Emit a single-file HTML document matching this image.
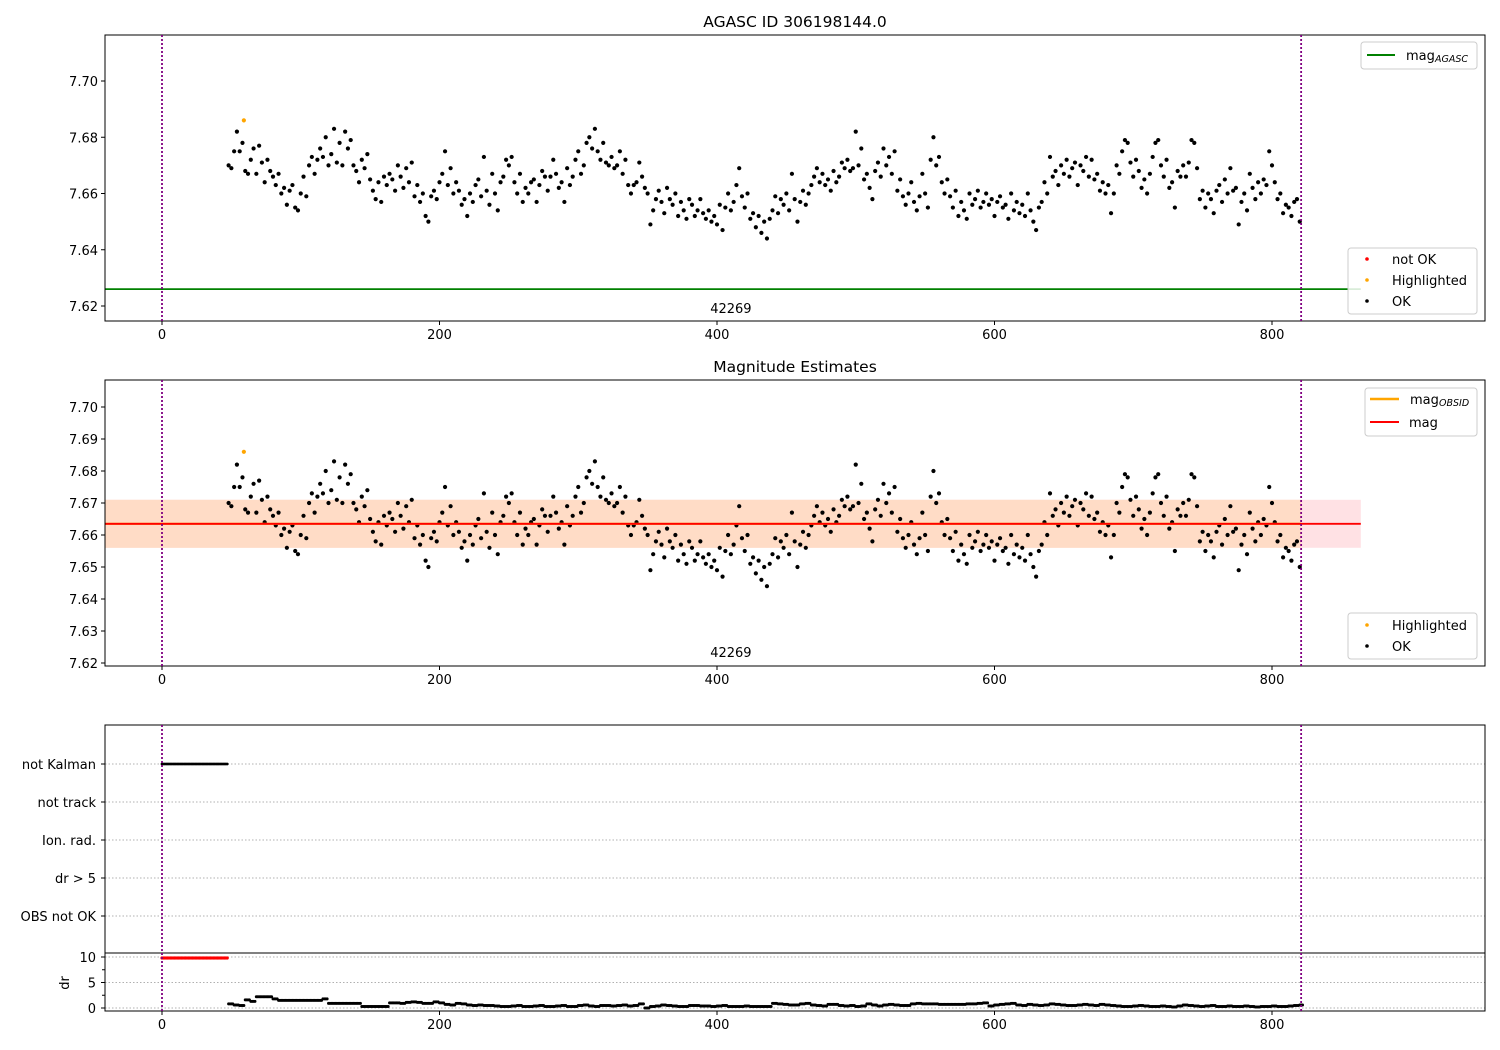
<!DOCTYPE html>
<html><head><meta charset="utf-8">
<style>
body{margin:0;background:#fff;}
svg{display:block;font-family:"DejaVu Sans","Liberation Sans",sans-serif;}
</style></head>
<body>
<svg id="fig" width="1500" height="1050" viewBox="0 0 1500 1050" xmlns="http://www.w3.org/2000/svg"></svg>
<script>
// ---- data ----
const magX0 = 48, magStep = 2;
const magValues = [
7.670,7.669,7.675,7.682,7.675,7.678,7.668,7.667,7.672,7.676,
7.667,7.677,7.671,7.664,7.672,7.668,7.666,7.663,7.667,7.660,
7.662,7.656,7.661,7.663,7.655,7.654,7.660,7.666,7.659,7.670,
7.673,7.667,7.672,7.676,7.673,7.680,7.670,7.674,7.683,7.671,
7.678,7.670,7.682,7.676,7.679,7.670,7.668,7.664,7.672,7.669,
7.674,7.665,7.661,7.658,7.664,7.657,7.666,7.663,7.667,7.665,
7.661,7.670,7.666,7.662,7.669,7.664,7.671,7.659,7.663,7.657,
7.660,7.652,7.650,7.659,7.661,7.658,7.664,7.667,7.675,7.663,
7.669,7.660,7.664,7.661,7.656,7.658,7.652,7.660,7.657,7.663,
7.665,7.659,7.673,7.661,7.656,7.667,7.660,7.654,7.664,7.666,
7.672,7.670,7.673,7.664,7.660,7.667,7.657,7.662,7.660,7.664,
7.665,7.657,7.663,7.668,7.666,7.661,7.666,7.672,7.667,7.662,
7.664,7.657,7.669,7.663,7.666,7.672,7.675,7.667,7.670,7.678,
7.680,7.676,7.683,7.675,7.672,7.678,7.671,7.670,7.673,7.669,
7.670,7.675,7.667,7.672,7.663,7.660,7.663,7.664,7.671,7.666,
7.662,7.660,7.649,7.654,7.658,7.661,7.657,7.653,7.662,7.658,
7.656,7.660,7.652,7.657,7.654,7.651,7.658,7.656,7.652,7.654,
7.658,7.653,7.651,7.654,7.650,7.652,7.649,7.656,7.647,7.655,
7.660,7.654,7.657,7.663,7.669,7.659,7.655,7.660,7.651,7.653,
7.648,7.652,7.646,7.650,7.644,7.651,7.654,7.659,7.653,7.658,
7.656,7.660,7.654,7.667,7.658,7.650,7.657,7.661,7.656,7.660,
7.663,7.666,7.669,7.664,7.667,7.663,7.665,7.661,7.668,7.664,
7.666,7.671,7.669,7.672,7.668,7.669,7.682,7.670,7.676,7.665,
7.667,7.662,7.658,7.668,7.671,7.666,7.676,7.670,7.673,7.667,
7.675,7.661,7.665,7.659,7.656,7.660,7.664,7.657,7.654,7.659,
7.667,7.660,7.655,7.672,7.680,7.670,7.673,7.664,7.660,7.665,
7.659,7.655,7.661,7.652,7.657,7.654,7.651,7.660,7.656,7.658,
7.661,7.655,7.657,7.660,7.656,7.658,7.652,7.657,7.659,7.655,
7.656,7.651,7.660,7.654,7.657,7.653,7.656,7.652,7.660,7.654,
7.650,7.647,7.655,7.657,7.664,7.660,7.673,7.666,7.668,7.663,
7.670,7.667,7.672,7.666,7.669,7.671,7.663,7.670,7.668,7.673,
7.666,7.672,7.665,7.667,7.661,7.664,7.660,7.663,7.653,7.660,
7.670,7.667,7.675,7.679,7.678,7.671,7.666,7.672,7.668,7.662,
7.665,7.660,7.667,7.673,7.678,7.679,7.670,7.666,7.672,7.662,
7.664,7.655,7.668,7.666,7.670,7.666,7.671,7.679,7.678,7.669,
7.658,7.661,7.655,7.660,7.658,7.653,7.661,7.663,7.657,7.665,
7.660,7.669,7.661,7.662,7.649,7.657,7.660,7.654,7.667,7.662,
7.658,7.664,7.660,7.665,7.663,7.675,7.670,7.664,7.658,7.660,
7.653,7.656,7.655,7.652,7.657,7.658,7.650];
const highlightX = [59];
const highlightMag = [7.686];
const drX0 = 48, drStep = 4;
const drValues = [
0.8,0.6,0.5,1.6,1.3,2.2,2.2,2.2,1.8,1.5,1.5,1.5,1.5,1.5,1.5,1.5,1.5,1.8,0.9,0.9,
0.9,0.9,0.9,0.9,0.3,0.3,0.3,0.3,0.3,1.0,1.0,0.9,1.1,1.2,1.1,0.9,0.9,1.2,1.0,0.7,
0.6,0.9,0.8,0.6,0.5,0.6,0.5,0.5,0.4,0.3,0.3,0.4,0.5,0.3,0.3,0.4,0.5,0.3,0.3,0.4,
0.5,0.3,0.3,0.5,0.6,0.4,0.3,0.5,0.5,0.4,0.5,0.6,0.4,0.5,0.8,0.0,0.3,0.4,0.6,0.5,
0.4,0.3,0.3,0.5,0.5,0.4,0.4,0.3,0.4,0.5,0.3,0.3,0.3,0.4,0.3,0.3,0.3,0.3,0.9,0.8,
0.7,0.6,0.6,0.8,0.9,0.6,0.5,0.4,0.7,0.7,0.5,0.4,0.5,0.3,0.4,0.8,0.6,0.4,0.6,0.7,
0.6,0.5,0.5,0.8,0.9,0.8,0.8,0.8,0.7,0.7,0.7,0.7,0.7,0.8,0.8,0.9,1.0,0.4,0.6,0.7,
0.8,0.9,0.6,0.5,0.7,0.6,0.5,0.6,0.8,0.7,0.6,0.5,0.5,0.6,0.7,0.6,0.5,0.7,0.6,0.5,
0.4,0.3,0.3,0.4,0.5,0.4,0.3,0.3,0.4,0.3,0.2,0.4,0.6,0.5,0.4,0.3,0.4,0.5,0.3,0.3,
0.4,0.3,0.3,0.4,0.3,0.2,0.3,0.3,0.4,0.3,0.3,0.4,0.5,0.6];
const flagLabels = ["not Kalman","not track","Ion. rad.","dr > 5","OBS not OK"];
const notKalmanCount = 48; // frames 0..47
const xTicks = [0,200,400,600,800];
const magTicks1 = [7.62,7.64,7.66,7.68,7.70];
const magTicks2 = [7.62,7.63,7.64,7.65,7.66,7.67,7.68,7.69,7.70];
const drTicks = [0,5,10];
const magAgasc = 7.626, magObs = 7.6635, bandLo = 7.656, bandHi = 7.671;

// ---- scales ----
const sx = v => 162 + v*1.3875;
const sy1 = v => 81 + (7.70 - v)*2812.5;
const sy2 = v => 407 + (7.70 - v)*3200;
const sdr = v => 1008 - v*5.1;
const NS = "http://www.w3.org/2000/svg";
const svg = document.getElementById('fig');
const FS = 13;
function el(tag, attrs, parent){const e=document.createElementNS(NS,tag);for(const k in attrs)e.setAttribute(k,attrs[k]);(parent||svg).appendChild(e);return e;}
function txt(s, attrs, parent){const e=el('text',attrs,parent);e.textContent=s;return e;}

function axesFrame(y0,y1,name){
  const r=el('rect',{x:105,y:y0,width:1380,height:y1-y0,fill:'none',stroke:'#000','stroke-width':1});
  
  
}
function xAxis(yb,name){
  const g=el('g',{});
  
  
  xTicks.forEach(t=>{el('line',{x1:sx(t),x2:sx(t),y1:yb,y2:yb+4,stroke:'#000'},g);txt(String(t),{x:sx(t),y:yb+18,'font-size':FS,'text-anchor':'middle'},g);});
}
function vlines(y0,y1){
  [0,821].forEach(v=>{const l=el('line',{x1:sx(v),x2:sx(v),y1:y0,y2:y1,stroke:'#800080','stroke-width':1.8,'stroke-dasharray':'2,2'});
  
  });
}
function dot(x,y,c,g,r){el('circle',{cx:x,cy:y,r:r||2.1,fill:c},g);}

// ---- title ----
const t1=txt("AGASC ID 306198144.0",{x:795,y:27,'font-size':15.5,'text-anchor':'middle'});



// ---- panel 1 ----
const c1=el('clipPath',{id:'c1'});el('rect',{x:105,y:35,width:1380,height:286},c1);
const g1=el('g',{'clip-path':'url(#c1)'});


const gl=el('line',{x1:105,x2:sx(864),y1:sy1(magAgasc),y2:sy1(magAgasc),stroke:'#008000','stroke-width':1.8},g1);


magValues.forEach((v,i)=>dot(sx(magX0+i*magStep),sy1(v),'#000',g1));
highlightX.forEach((x,i)=>dot(sx(x),sy1(highlightMag[i]),'#ffa500',g1));
axesFrame(35,321,'agasc-panel-frame');
const ya1=el('g',{});


magTicks1.forEach(t=>{el('line',{x1:101,x2:105,y1:sy1(t),y2:sy1(t),stroke:'#000'},ya1);txt(t.toFixed(2),{x:98,y:sy1(t)+5,'font-size':FS,'text-anchor':'end'},ya1);});
xAxis(321,'x-axis-top');
vlines(35,321);
const o1=txt("42269",{x:sx(410),y:313,'font-size':FS,'text-anchor':'middle'});



// legends panel 1
function legendBox(x,y,w,h,name){const r=el('rect',{x:x,y:y,width:w,height:h,rx:3,fill:'#fff','fill-opacity':0.85,stroke:'#ccc'});}
legendBox(1361,42,116,27,'legend-agasc');
el('line',{x1:1367,x2:1395,y1:55,y2:55,stroke:'#008000','stroke-width':2});
const la=txt("mag",{x:1406,y:60,'font-size':FS});


txt("AGASC",{x:1435,y:62,'font-size':9.5,'font-style':'italic'});
legendBox(1348,248,129,66,'legend-status');
[["not OK","#ff0000",259],["Highlighted","#ffa500",280],["OK","#000",301]].forEach(a=>{
  dot(1367,a[2],a[1],svg,1.8);
  const t=txt(a[0],{x:1392,y:a[2]+5,'font-size':FS});
  
  
});

// ---- panel 2 ----
const t2=txt("Magnitude Estimates",{x:795,y:372,'font-size':15.5,'text-anchor':'middle'});


const c2=el('clipPath',{id:'c2'});el('rect',{x:105,y:380,width:1380,height:286},c2);
const g2=el('g',{'clip-path':'url(#c2)'});


const b1=el('rect',{x:105,y:sy2(bandHi),width:sx(864)-105,height:sy2(bandLo)-sy2(bandHi),fill:'#ffe1e4'},g2);


const b2=el('rect',{x:105,y:sy2(bandHi),width:sx(821)-105,height:sy2(bandLo)-sy2(bandHi),fill:'#ffdcc6'},g2);


magValues.forEach((v,i)=>dot(sx(magX0+i*magStep),sy2(v),'#000',g2));
highlightX.forEach((x,i)=>dot(sx(x),sy2(highlightMag[i]),'#ffa500',g2));
el('line',{x1:105,x2:sx(821),y1:sy2(magObs),y2:sy2(magObs),stroke:'#ffa500','stroke-width':2.2},g2);
const rl=el('line',{x1:105,x2:sx(864),y1:sy2(magObs),y2:sy2(magObs),stroke:'#ff0000','stroke-width':1.8},g2);


axesFrame(380,666,'estimates-panel-frame');
const ya2=el('g',{});


magTicks2.forEach(t=>{el('line',{x1:101,x2:105,y1:sy2(t),y2:sy2(t),stroke:'#000'},ya2);txt(t.toFixed(2),{x:98,y:sy2(t)+5,'font-size':FS,'text-anchor':'end'},ya2);});
xAxis(666,'x-axis-middle');
vlines(380,666);
const o2=txt("42269",{x:sx(410),y:657,'font-size':FS,'text-anchor':'middle'});


legendBox(1365,388,112,48,'legend-estimates');
el('line',{x1:1370,x2:1399,y1:399,y2:399,stroke:'#ffa500','stroke-width':2.4});
el('line',{x1:1370,x2:1399,y1:422,y2:422,stroke:'#ff0000','stroke-width':2});
txt("mag",{x:1410,y:404,'font-size':FS});
txt("OBSID",{x:1439,y:406,'font-size':9.5,'font-style':'italic'});
txt("mag",{x:1409,y:427,'font-size':FS});
legendBox(1348,613,129,46,'legend-status-2');
dot(1367,625,'#ffa500',svg,1.8);dot(1367,646,'#000',svg,1.8);
txt("Highlighted",{x:1392,y:630,'font-size':FS});
txt("OK",{x:1392,y:651,'font-size':FS});

// ---- panel 3: flags ----
const g3=el('g',{});


flagLabels.forEach((f,i)=>{
  const y=764+i*38;
  el('line',{x1:105,x2:1485,y1:y,y2:y,stroke:'#b0b0b0','stroke-dasharray':'1.5,2'},g3);
  el('line',{x1:101,x2:105,y1:y,y2:y,stroke:'#000'},g3);
  const t=txt(f,{x:96,y:y+5,'font-size':FS,'text-anchor':'end'},g3);
  
  
});
for(let i=0;i<notKalmanCount;i++) dot(sx(i),764,'#000',g3,1.4);
el('rect',{x:105,y:725,width:1380,height:228,fill:'none',stroke:'#000'});
vlines(725,953);

// dr panel
const g4=el('g',{});


drTicks.forEach(t=>{
  el('line',{x1:105,x2:1485,y1:sdr(t),y2:sdr(t),stroke:'#b0b0b0','stroke-dasharray':'1.5,2'},g4);
  el('line',{x1:101,x2:105,y1:sdr(t),y2:sdr(t),stroke:'#000'},g4);
  txt(String(t),{x:96,y:sdr(t)+5,'font-size':FS,'text-anchor':'end'},g4);
});
el('line',{x1:102,x2:105,y1:sdr(7.5),y2:sdr(7.5),stroke:'#000'},g4);
el('line',{x1:102,x2:105,y1:sdr(2.5),y2:sdr(2.5),stroke:'#000'},g4);
const dl=txt("dr",{x:0,y:0,'font-size':FS,'text-anchor':'middle',transform:'translate(69,983) rotate(-90)'},g4);


for(let i=0;i<notKalmanCount;i++) dot(sx(i),sdr(9.8),'#ff0000',g4,1.6);
drValues.forEach((v,i)=>{const x=drX0+i*drStep;[0,1,2,3].forEach(k=>{if(x+k<=822)dot(sx(x+k),sdr(v),'#000',g4,1.5);});});
el('rect',{x:105,y:953,width:1380,height:58,fill:'none',stroke:'#000'});
xAxis(1011,'x-axis-bottom');
vlines(953,1011);
</script>
</body></html>
